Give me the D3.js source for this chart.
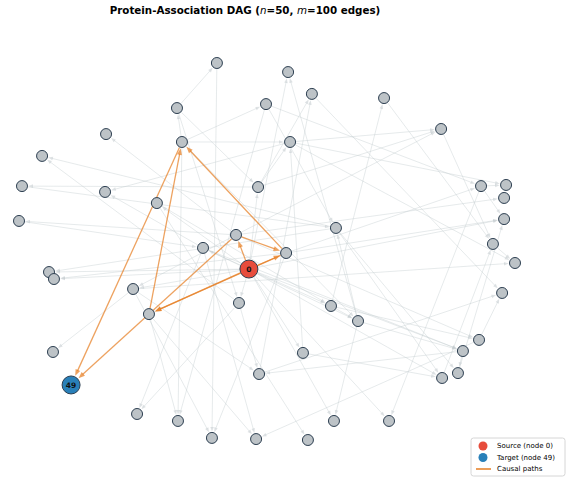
<!DOCTYPE html>
<html><head><meta charset="utf-8">
<script src="https://cdn.jsdelivr.net/npm/d3@7"></script>
<style>body{margin:0;background:#fff;} svg{display:block;font-family:"DejaVu Sans",sans-serif;}</style>
</head><body><svg id="c" width="569" height="479"></svg>
<script>
// ---- data ----
const nodeIds = d3.range(50);
const nodeX = [-0.073,-0.202,0.085,0.181,0.472,-0.363,-0.004,-0.649,0.702,-0.343,
  0.093,-0.907,-0.988,-0.653,-0.036,-0.444,0.863,0.964,0.956,-1.000,
  0.956,0.278,-0.125,-0.258,0.077,0.911,1.000,-0.879,-0.859,-0.540,
  0.948,-0.113,-0.476,0.258,0.367,0.855,0.790,0.145,-0.863,-0.032,
  0.770,0.706,-0.524,-0.359,-0.222,-0.044,0.165,0.270,0.492,-0.790];
const nodeY = [-0.093,1.000,0.952,0.836,0.814,0.761,0.782,0.623,0.650,0.581,
  0.581,0.507,0.347,0.316,0.342,0.257,0.347,0.353,0.284,0.162,
  0.172,0.125,0.088,0.019,-0.008,0.040,-0.061,-0.109,-0.146,-0.199,
  -0.220,-0.273,-0.332,-0.289,-0.369,-0.469,-0.528,-0.538,-0.533,-0.650,
  -0.645,-0.671,-0.862,-0.899,-0.989,-0.995,-1.000,-0.899,-0.899,-0.708];
const grayEdges = [[5,1],[1,44],[0,2],[34,2],[39,3],[3,30],[33,4],[4,25],[9,5],[9,6],
  [5,31],[22,7],[10,8],[14,8],[22,8],[8,25],[14,10],[37,10],[31,11],[21,11],
  [14,12],[23,13],[10,13],[0,14],[0,15],[24,16],[10,17],[22,18],[22,19],[0,20],
  [16,20],[34,21],[0,23],[25,26],[29,26],[21,27],[0,27],[24,28],[0,28],[0,29],
  [22,29],[35,30],[39,30],[0,31],[29,38],[32,45],[31,42],[23,42],[6,43],[9,43],
  [29,44],[24,44],[23,45],[35,45],[15,46],[34,47],[0,47],[16,48],[0,48],[36,39],
  [29,39],[0,37],[33,34],[40,20],[41,25],[36,40],[0,41],[0,36],[22,35],[23,36],
  [0,33],[15,33],[23,34],[9,34],[24,20],[10,26],[14,3],[6,21],[9,10],[6,16],
  [12,21],[19,23],[31,39],[32,43],[33,35],[34,36],[21,41],[37,41],[16,17],[5,14],
  [21,40]];
const causalEdges = [[0,22],[22,24],[0,24],[24,9],[24,32],[0,32],[32,9],[9,49],[22,49]];
const sourceNode = 0, targetNode = 49;
const legendLabels = ["Source (node 0)", "Target (node 49)", "Causal paths"];

// ---- styles ----
const C = {node:"#bdc3c7", stroke:"#2c3e50", src:"#e74c3c", tgt:"#2980b9", causal:"#e67e22", edge:"#c3cbce"};

const svg = d3.select("#c");
const x = d3.scaleLinear().domain([-1,1]).range([19,515]);
const y = d3.scaleLinear().domain([-1,1]).range([440,63]);
const R = id => (id===sourceNode||id===targetNode) ? 9 : 5.5;
const P = id => [x(nodeX[id]), y(nodeY[id])];

function drawEdges(list, cls, color, opacity, width, alen, awid){
  const g = svg.append("g").attr("class", cls);
  list.forEach(([s,t])=>{
    const [x1,y1]=P(s), [x2,y2]=P(t);
    const dx=x2-x1, dy=y2-y1, L=Math.hypot(dx,dy), ux=dx/L, uy=dy/L;
    const sx=x1+ux*(R(s)+0.5), sy=y1+uy*(R(s)+0.5);
    const tx=x2-ux*(R(t)+1), ty=y2-uy*(R(t)+1);
    const bx=tx-ux*alen, by=ty-uy*alen;
    g.append("line").attr("x1",sx).attr("y1",sy).attr("x2",bx+ux*1).attr("y2",by+uy*1)
      .attr("stroke",color).attr("stroke-opacity",opacity).attr("stroke-width",width);
    const px=-uy, py=ux;
    g.append("path").attr("d",`M${tx},${ty}L${bx+px*awid},${by+py*awid}L${bx-px*awid},${by-py*awid}Z`)
      .attr("fill",color).attr("fill-opacity",opacity);
  });
}
drawEdges(grayEdges,"edges",C.edge,0.55,0.75,4.5,1.8);
drawEdges(causalEdges,"causal",C.causal,0.72,1.3,6.5,2.5);

const ng = svg.append("g").attr("class","nodes");
ng.selectAll("circle").data(nodeIds).join("circle")
  .attr("cx",d=>P(d)[0]).attr("cy",d=>P(d)[1]).attr("r",R)
  .attr("fill",d=>d===sourceNode?C.src:d===targetNode?C.tgt:C.node)
  .attr("stroke",C.stroke).attr("stroke-width",1);
ng.selectAll("text").data([sourceNode,targetNode]).join("text")
  .attr("x",d=>P(d)[0]).attr("y",d=>P(d)[1]).attr("dy","0.35em")
  .attr("text-anchor","middle").attr("font-size",7.5).attr("font-weight","bold").attr("fill","#111")
  .text(d=>d);

// title
const title = svg.append("text").attr("x",245).attr("y",14).attr("text-anchor","middle")
  .attr("font-size",10.3).attr("font-weight","bold").attr("fill","#000");
title.append("tspan").text("Protein-Association DAG (");
title.append("tspan").attr("font-style","italic").attr("font-weight","normal").text("n");
title.append("tspan").text("=50, ");
title.append("tspan").attr("font-style","italic").attr("font-weight","normal").text("m");
title.append("tspan").text("=100 edges)");

// legend
const lg = svg.append("g").attr("transform","translate(471,438)");
lg.append("rect").attr("width",94).attr("height",38).attr("rx",2.5)
  .attr("fill","#fff").attr("fill-opacity",0.8).attr("stroke","#cccccc").attr("stroke-width",0.8);
const items = [{t:"dot",c:C.src},{t:"dot",c:C.tgt},{t:"line",c:C.causal}];
items.forEach((it,i)=>{
  const cy = 8 + i*11.5;
  if(it.t==="dot") lg.append("circle").attr("cx",12).attr("cy",cy).attr("r",4.5).attr("fill",it.c);
  else lg.append("line").attr("x1",5).attr("x2",20).attr("y1",cy).attr("y2",cy).attr("stroke",it.c).attr("stroke-width",1.5);
  lg.append("text").attr("x",26).attr("y",cy).attr("dy","0.35em").attr("font-size",7).attr("fill","#000").text(legendLabels[i]);
});
</script></body></html>
